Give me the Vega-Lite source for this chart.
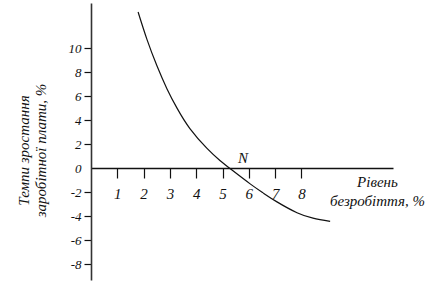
{
  "$schema": "https://vega.github.io/schema/vega-lite/v6.json",
  "width": 302,
  "height": 277,
  "autosize": {"type": "none"},
  "padding": {"left": 91, "top": 3, "right": 51, "bottom": 2},
  "background": "white",
  "config": {"view": {"stroke": null}},
  "layer": [
    {
      "data": {"values": [
        {"u": 1.79, "w": 13.0},
        {"u": 2.13, "w": 10.7},
        {"u": 2.51, "w": 8.5},
        {"u": 2.89, "w": 6.6},
        {"u": 3.27, "w": 5.0},
        {"u": 3.76, "w": 3.3},
        {"u": 4.41, "w": 1.65},
        {"u": 4.90, "w": 0.65},
        {"u": 5.36, "w": -0.15},
        {"u": 6.05, "w": -1.3},
        {"u": 6.54, "w": -2.05},
        {"u": 7.07, "w": -2.8},
        {"u": 7.83, "w": -3.7},
        {"u": 8.44, "w": -4.15},
        {"u": 9.09, "w": -4.42}
      ]},
      "mark": {"type": "line", "interpolate": "natural", "color": "#111", "strokeWidth": 1.2},
      "encoding": {
        "x": {
          "field": "u", "type": "quantitative",
          "scale": {"domain": [0, 11.48], "nice": false, "zero": false},
          "axis": {
            "orient": "bottom", "offset": -112, "values": [1, 2, 3, 4, 5, 6, 7, 8], "tickCount": 20, "format": "d",
            "grid": false, "tickSize": 10, "labelPadding": 8, "labelOverlap": false,
            "domainColor": "#111", "tickColor": "#111", "domainWidth": 1.3, "tickWidth": 1.2,
            "labelFont": "Liberation Serif", "labelFontStyle": "italic", "labelFontSize": 15, "labelColor": "#111",
            "title": ["Рівень", "безробіття, %"],
            "titleFont": "Liberation Serif", "titleFontStyle": "italic", "titleFontWeight": "normal",
            "titleFontSize": 15, "titleColor": "#111", "titleLineHeight": 19,
            "titleX": 286, "titleY": 6, "titleAlign": "center", "titleBaseline": "top"
          }
        },
        "y": {
          "field": "w", "type": "quantitative",
          "scale": {"domain": [-9.3, 13.75], "nice": false, "zero": false},
          "axis": {
            "orient": "left", "values": [-8, -6, -4, -2, 0, 2, 4, 6, 8, 10], "tickCount": 20,
            "grid": false, "tickSize": 7, "labelPadding": 3, "labelOverlap": false,
            "labelExpr": "datum.value < 0 ? '-' + abs(datum.value) : '' + datum.value",
            "tickOpacity": {"condition": {"test": "datum.value === 0", "value": 0}, "value": 1},
            "domainColor": "#333", "tickColor": "#111", "domainWidth": 1.6, "tickWidth": 1.2,
            "labelFont": "Liberation Serif", "labelFontStyle": "italic", "labelFontSize": 13, "labelColor": "#111",
            "title": ["Темпи зростання", "заробітної плати, %"],
            "titleFont": "Liberation Serif", "titleFontStyle": "italic", "titleFontWeight": "normal",
            "titleFontSize": 15, "titleColor": "#111", "titleLineHeight": 17,
            "titleX": -60, "titleY": 147, "titleAlign": "center", "titleBaseline": "bottom", "titleAngle": -90
          }
        }
      }
    },
    {
      "data": {"values": [{"u": 5.78, "w": 0.83, "label": "N"}]},
      "mark": {"type": "text", "font": "Liberation Serif", "fontStyle": "italic", "fontSize": 15, "color": "#111"},
      "encoding": {
        "x": {"field": "u", "type": "quantitative"},
        "y": {"field": "w", "type": "quantitative"},
        "text": {"field": "label"}
      }
    }
  ]
}
